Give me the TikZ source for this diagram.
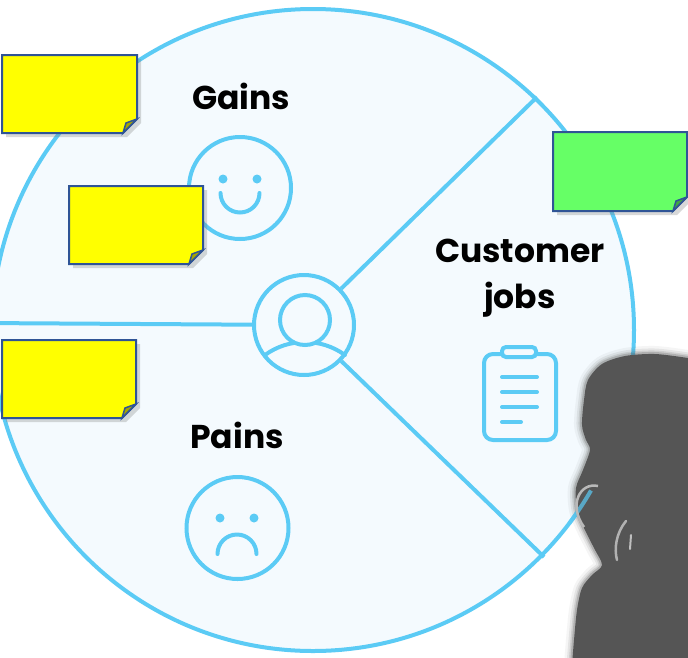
\documentclass[tikz,border=0pt]{standalone}
\usepackage{fontspec}
\setsansfont{Poppins}
\usepackage{xcolor}
\definecolor{canvasblue}{HTML}{5BCBF5}
\definecolor{canvasbg}{HTML}{F4FAFE}
\definecolor{noteedge}{HTML}{2F5496}
\definecolor{noteyellow}{HTML}{FFFF00}
\definecolor{notegreen}{HTML}{66FF66}
\definecolor{womangray}{HTML}{555555}
\usetikzlibrary{shadows}

% sticky note: top left (#1,#2), bottom right (#3,#4), colour #5
\newcommand{\stickynote}[5]{%
  \path[fill=#5,draw=noteedge,line width=2pt,line join=miter,
        drop shadow={shadow xshift=4pt,shadow yshift=-4pt,opacity=.3}]
    (#1,#2) -- (#3,#2) -- (#3,#4-14) -- (#3-14,#4) -- (#1,#4) -- cycle;
  \path[fill=#5!65!black,draw=noteedge,line width=1.5pt]
    (#3,#4-14) -- (#3-14,#4) -- (#3-11,#4-10) -- cycle;
}

\tikzset{
  icon/.style={draw=canvasblue,line width=4pt,line cap=round},
  label/.style={font=\sffamily\bfseries\fontsize{33}{46}\selectfont,text=black,align=center}
}

\def\womanoutline{(700,358) -- (688,358) plot[smooth] coordinates {(688,358) (655,354)
  (625,356) (602,364) (588,380) (584,400) (582,425) (586,440) (590,450) (583,470)
  (576,488) (577,510) (584,528) (594,548) (602,565) (592,575) (582,588) (577,610)
  (574,640) (572,665)} -- (700,665) -- cycle}

\begin{document}
\begin{tikzpicture}[x=1pt,y=-1pt]
  \useasboundingbox (0,0) rectangle (688,657);
  \clip (0,0) rectangle (688,657);

  \fill[white] (0,0) rectangle (688,657);
  \draw[icon,fill=canvasbg] (313,330) circle[radius=321];

  \coordinate (rimW) at (-20,323);
  \coordinate (rimNE) at (537,97);
  \coordinate (rimSE) at (544,557);
  \node[circle,icon,fill=canvasbg,minimum size=100pt,inner sep=0pt] (hub) at (304,325) {};
  \draw[icon,line cap=butt] (hub) -- (rimW);
  \draw[icon,line cap=butt] (hub) -- (rimNE);
  \draw[icon,line cap=butt] (hub) -- (rimSE);

  % person in the hub
  \draw[icon] (265,355) arc[start angle=234,end angle=306,radius=68];
  \draw[icon,fill=canvasbg] (305,320) circle[radius=25];

  % gains
  \node[label] (gains) at (241,96) {Gains};
  \draw[icon] (240,188) circle[radius=51];
  \fill[canvasblue] (223,179) circle[radius=4.5] (257,179) circle[radius=4.5];
  \draw[icon] (259.5,193) arc[start angle=0,end angle=180,radius=19.5];

  % pains
  \node[label] (pains) at (237,435) {Pains};
  \draw[icon] (237.5,528) circle[radius=51];
  \fill[canvasblue] (220,518) circle[radius=4.5] (254,518) circle[radius=4.5];
  \draw[icon] (217.5,554) arc[start angle=180,end angle=360,radius=19.5];

  % customer jobs
  \node[label] (jobs) at (520,278) {Customer\\jobs};
  \draw[icon,rounded corners=9pt] (484,354) rectangle (556,440);
  \draw[icon,fill=canvasbg,rounded corners=4pt] (502,347) rectangle (536,357);
  \foreach \y/\e in {377/537,392/537,407/537,422/521}
    \draw[icon] (502,\y) -- (\e,\y);

  % notes
  \stickynote{2}{55}{137}{133}{noteyellow}
  \stickynote{69}{186}{203}{264}{noteyellow}
  \stickynote{2}{340}{136}{418}{noteyellow}
  \stickynote{553}{132}{687}{211}{notegreen}

  % woman watching, soft edge first
  \foreach \w/\o in {16/.06,11/.1,7/.15,4/.25}
    \draw[womangray,line width=\w pt,opacity=\o,line join=round] \womanoutline;
  \fill[womangray] \womanoutline;
  \draw[canvasblue,line width=4pt,opacity=.7] (313,330) ++(30:321) arc[start angle=30,end angle=37,radius=321];
  \draw[gray!55,line width=2.5pt] (598,486) .. controls (580,482) and (568,505) .. (584,527);
  \draw[gray!60,line width=2.5pt,line cap=round] (626,521) .. controls (616,533) and (614,549) .. (617,560);
  \draw[gray!50,line width=2pt,line cap=round] (631,535) -- (630,549);
\end{tikzpicture}
\end{document}
